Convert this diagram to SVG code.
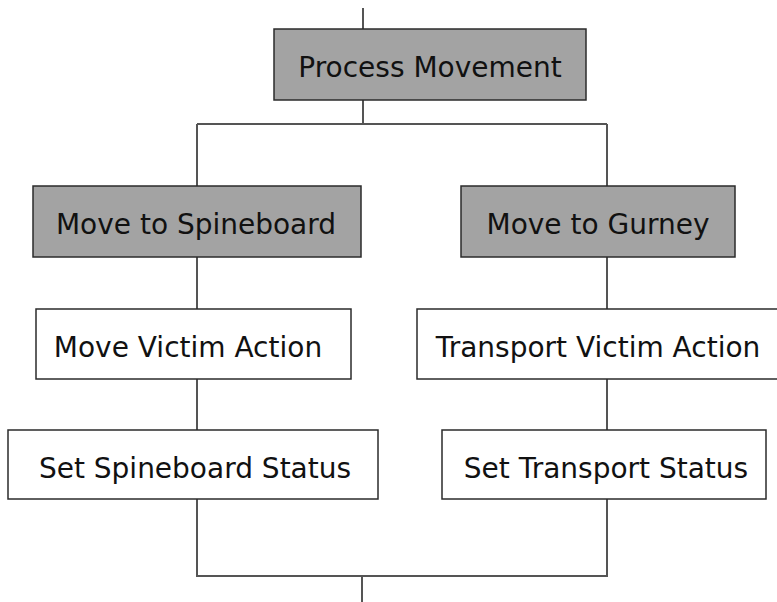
<svg xmlns="http://www.w3.org/2000/svg" width="777" height="602" viewBox="0 0 777 602">
  <style>
    .box { stroke: #2b2b2b; stroke-width: 1.5; }
    .grey { fill: #a3a3a3; }
    .white { fill: #ffffff; }
    .label { font-family: "DejaVu Sans", Verdana, sans-serif; font-size: 28px; fill: #111111; text-anchor: middle; }
    .wire { fill: none; stroke: #555555; stroke-width: 2; }
  </style>
  <rect x="0" y="0" width="777" height="602" fill="#ffffff"/>

  <!-- connectors -->
  <g id="connectors">
    <path class="wire" d="M363,8 V29"/>
    <path class="wire" d="M363,100 V124 M197,124 H607 M197,124 V186 M607,124 V186"/>
    <path class="wire" d="M197,257 V309 M607,257 V309"/>
    <path class="wire" d="M197,379 V430 M607,379 V430"/>
    <path class="wire" d="M197,499 V576 H607 V499 M362,576 V602"/>
  </g>

  <g id="process-movement">
    <rect class="box grey" x="274" y="29" width="312" height="71"/>
    <text class="label" x="430" y="77">Process Movement</text>
  </g>

  <g id="move-to-spineboard">
    <rect class="box grey" x="33" y="186" width="328" height="71"/>
    <text class="label" x="196" y="234">Move to Spineboard</text>
  </g>

  <g id="move-to-gurney">
    <rect class="box grey" x="461" y="186" width="274" height="71"/>
    <text class="label" x="598" y="234">Move to Gurney</text>
  </g>

  <g id="move-victim-action">
    <rect class="box white" x="36" y="309" width="315" height="70"/>
    <text class="label" x="188" y="357">Move Victim Action</text>
  </g>

  <g id="transport-victim-action">
    <rect class="box white" x="417" y="309" width="364" height="70"/>
    <text class="label" x="598" y="357">Transport Victim Action</text>
  </g>

  <g id="set-spineboard-status">
    <rect class="box white" x="8" y="430" width="370" height="69"/>
    <text class="label" x="195" y="478">Set Spineboard Status</text>
  </g>

  <g id="set-transport-status">
    <rect class="box white" x="442" y="430" width="324" height="69"/>
    <text class="label" x="606" y="478">Set Transport Status</text>
  </g>
</svg>
